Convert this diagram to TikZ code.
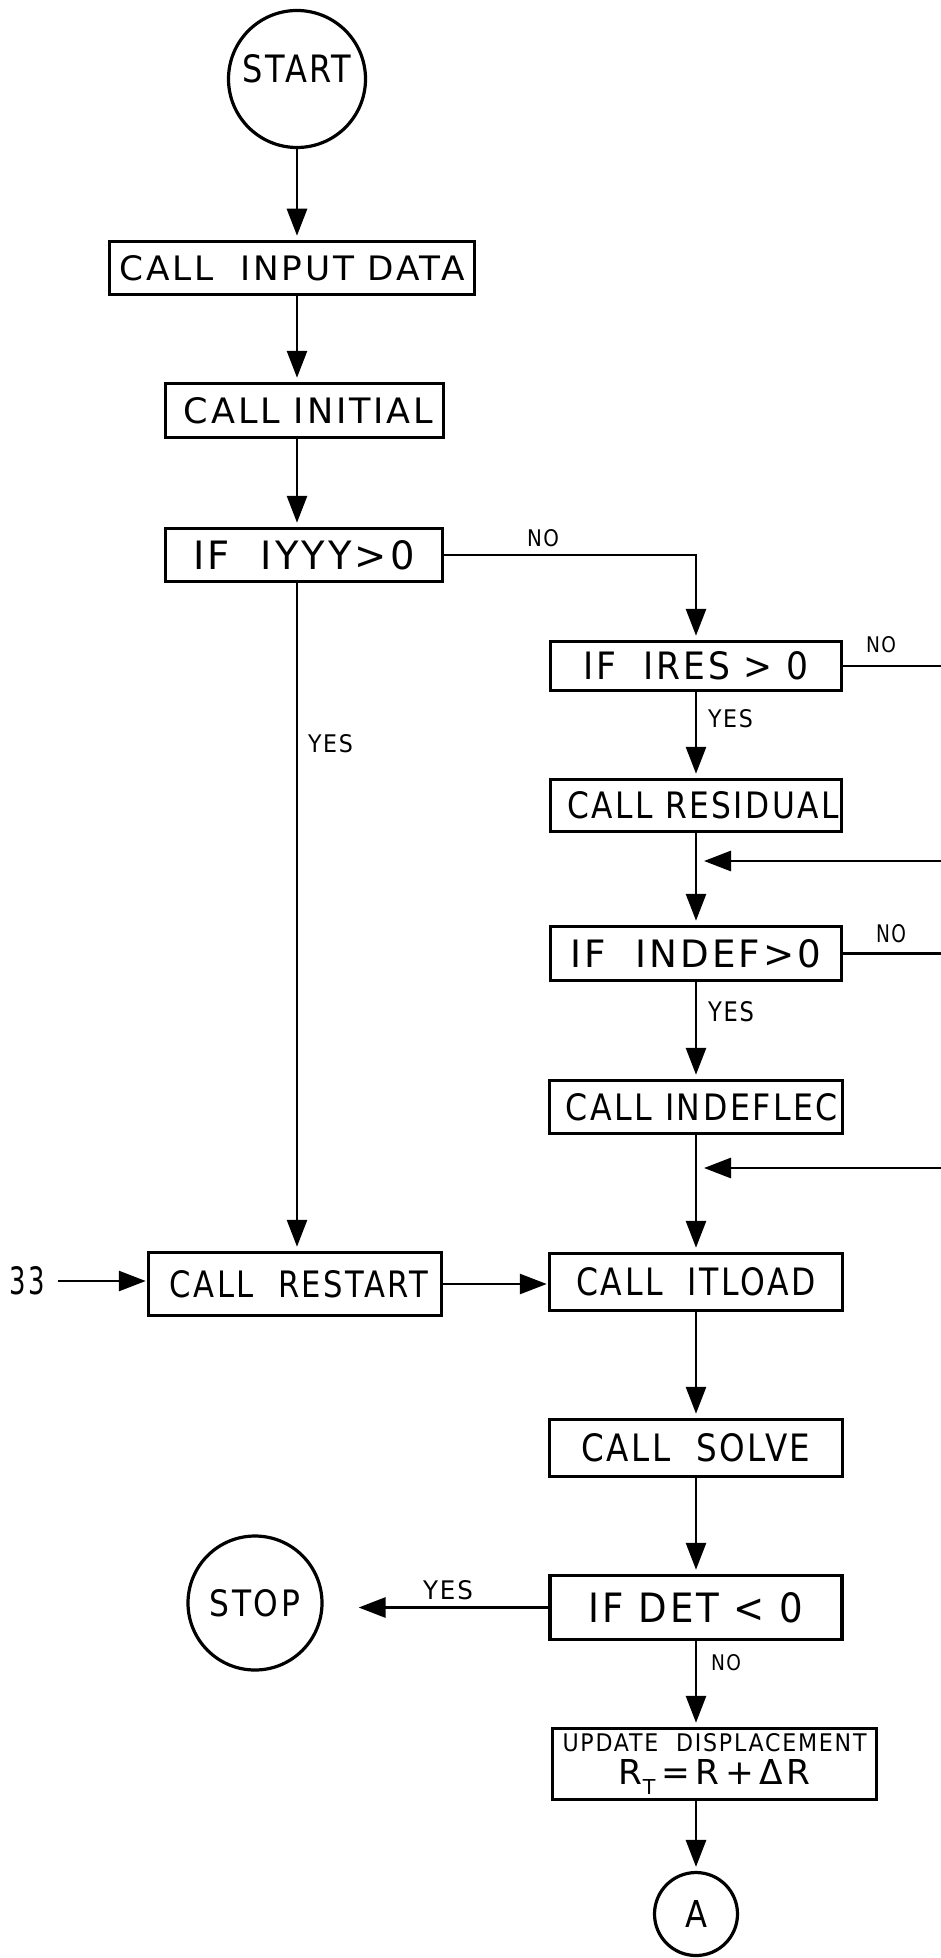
\documentclass[tikz,border=0pt]{standalone}
\usepackage{fontspec}
\setmainfont{DejaVu Sans}[LetterSpace=8]
\usetikzlibrary{arrows.meta}
\newcommand\fitt[3]{\resizebox{#1pt}{#2pt}{#3}}
\begin{document}
\begin{tikzpicture}[x=1pt,y=-1pt,
  box/.style={draw, line width=3.5pt, inner sep=0pt},
  circ/.style={draw, circle, line width=3.2pt, inner sep=0pt},
  lbl/.style={inner sep=0pt},
  conn/.style={line width=2.9pt},
  arr/.style={conn, -{Triangle[length=27pt,width=20pt]}, shorten >=4pt}]
\useasboundingbox (0,0) rectangle (941,1958);
\fill[white] (0,0) rectangle (941,1958);

% left column
\node[circ, minimum size=137pt] (start) at (297,79) {\raisebox{20pt}{\fitt{109}{28}{START}}};
\node[box, minimum width=365pt, minimum height=53pt] (input) at (292,268) {\fitt{345}{25}{CALL~~INPUT DATA}};
\node[box, minimum width=278pt, minimum height=54pt] (initial) at (304.5,410.5) {\hspace{8pt}\fitt{249}{26}{CALL INITIAL}};
\node[box, minimum width=277pt, minimum height=53pt] (iyyy) at (304,555) {\fitt{221}{29}{IF~~IYYY>0}\hspace{9pt}};
\node[box, minimum width=293pt, minimum height=63pt] (restart) at (295,1284) {\hspace{8pt}\fitt{258}{27}{CALL~~RESTART}};
\node[circ, minimum size=134pt] (stop) at (255,1603) {\fitt{90}{27}{STOP}};

% right column
\node[box, minimum width=291pt, minimum height=49pt] (ires) at (696,666) {\fitt{225}{28}{IF~~IRES~>~0}\hspace{17pt}};
\node[box, minimum width=291pt, minimum height=52pt] (resid) at (696,805.5) {\hspace{14pt}\fitt{272}{27}{CALL RESIDUAL}};
\node[box, minimum width=291pt, minimum height=54pt] (indef) at (696,953.5) {\fitt{250}{28}{IF~~INDEF>0}\hspace{12pt}};
\node[box, minimum width=293pt, minimum height=53pt] (indefl) at (696,1107) {\hspace{12pt}\fitt{272}{27}{CALL~INDEFLEC}};
\node[box, minimum width=293pt, minimum height=57pt] (itload) at (696,1282) {\fitt{239}{28}{CALL~~ITLOAD}\hspace{9pt}};
\node[box, minimum width=293pt, minimum height=57pt] (solve) at (696,1448) {\fitt{229}{28}{CALL~~SOLVE}\hspace{23pt}};
\node[box, minimum width=292pt, minimum height=64pt] (det) at (696,1607.5) {\fitt{215}{30}{IF~DET~<~0}\hspace{20pt}};
\node[box, minimum width=324pt, minimum height=71pt] (upd) at (714.5,1764) {\vbox{\offinterlineskip
  \hbox to 304pt{\fitt{304}{18}{UPDATE~~DISPLACEMENT}}\kern8pt
  \hbox to 304pt{\hfil\fitt{191}{25}{R\raisebox{-0.3em}{\scalebox{0.6}{T}}\,=\,R\,+\,ΔR}\hfil}}};
\node[circ, minimum size=83pt] (a) at (696,1914) {\fitt{22}{27}{A}};

% labels
\node[lbl] (lno1) at (543,538.5) {\fitt{32}{17}{NO}};
\node[lbl] (lyes1) at (330.5,744) {\fitt{45}{18}{YES}};
\node[lbl] (lno2) at (881,645) {\fitt{30}{16}{NO}};
\node[lbl] (lyes2) at (730.5,719) {\fitt{45}{18}{YES}};
\node[lbl] (lno3) at (891,934) {\fitt{30}{18}{NO}};
\node[lbl] (lyes3) at (731,1012) {\fitt{46}{20}{YES}};
\node[lbl] (n33) at (27.5,1281) {\fitt{35}{28}{33}};
\node[lbl] (lyes4) at (448,1590.5) {\fitt{50}{19}{YES}};
\node[lbl] (lno4) at (726,1663) {\fitt{30}{16}{NO}};

% free ends at the right edge
\coordinate (e1) at (941,664);
\coordinate (e2) at (941,861);
\coordinate (e3) at (941,954);
\coordinate (e4) at (941,1168);

% connectors
\draw[arr] (start.south) -- (start.south |- input.north);
\draw[arr] (input.south -| start) -- (initial.north -| start);
\draw[arr] (initial.south -| start) -- (iyyy.north -| start);
\draw[arr] (iyyy.south -| start) -- (restart.north -| start);
\draw[arr] (iyyy.east) -| (ires.north);
\draw[conn] (ires.east) -- (ires.east -| e1);
\draw[arr] (ires.south) -- (resid.north);
\draw[arr] (resid.south) -- (indef.north);
\draw[arr, shorten >=8pt] (e2) -- (e2 -| ires);
\draw[conn] (indef.east) -- (indef.east -| e3);
\draw[arr] (indef.south) -- (indefl.north);
\draw[arr, shorten >=8pt] (e4) -- (e4 -| ires);
\draw[arr] (indefl.south) -- (itload.north);
\draw[arr, shorten <=13pt, shorten >=1pt] (n33.east) -- (n33.east -| restart.west);
\draw[arr, shorten >=1pt] (restart.east) -- (restart.east -| itload.west);
\draw[arr] (itload.south) -- (solve.north);
\draw[arr] (solve.south) -- (det.north);
\draw[arr] (det.south) -- (det.south |- upd.north);
\draw[arr] (upd.south -| a) -- (a.north);
\draw[arr, shorten >=35pt] (det.west) -- (det.west -| stop.east);
\end{tikzpicture}
\end{document}
